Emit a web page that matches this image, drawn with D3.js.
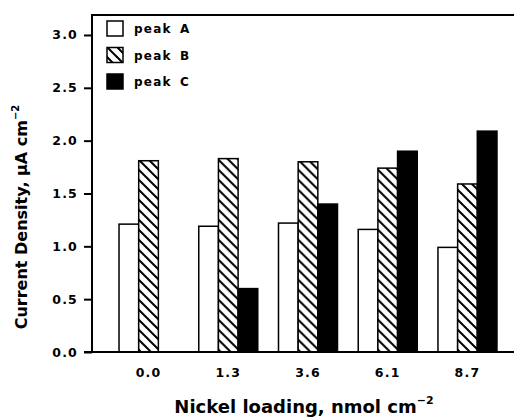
<!DOCTYPE html>
<html><head><meta charset="utf-8">
<script src="https://cdn.jsdelivr.net/npm/d3@7"></script>
<style>body{margin:0;background:#fff}</style>
</head><body>
<script>
const categories = ["0.0","1.3","3.6","6.1","8.7"];
const seriesNames = ["peak A","peak B","peak C"];
const peakA = [1.21, 1.19, 1.22, 1.16, 0.99];
const peakB = [1.81, 1.83, 1.80, 1.74, 1.59];
const peakC = [null, 0.60, 1.40, 1.90, 2.09];
const yTicks = [0.0, 0.5, 1.0, 1.5, 2.0, 2.5, 3.0];

const W = 514, H = 419;
const font = "DejaVu Sans, Verdana, sans-serif";
const svg = d3.select("body").append("svg").attr("width", W).attr("height", H);

const defs = svg.append("defs");
const pat = defs.append("pattern").attr("id","hatch").attr("patternUnits","userSpaceOnUse")
  .attr("width",10).attr("height",10);
pat.append("rect").attr("width",10).attr("height",10).attr("fill","#fff");
pat.append("path").attr("d","M-5,-5 L15,15 M-5,5 L5,15 M5,-5 L15,5").attr("stroke","#000").attr("stroke-width",2);

const fills = ["#fff","url(#hatch)","#000"];

const y = d3.scaleLinear().domain([0, 3.189]).range([352, 15]);
const x0 = d3.scaleBand().domain(categories).range([92, 524]).paddingInner(0.26).paddingOuter(0.339);
const x1 = d3.scaleBand().domain(seriesNames).range([0, x0.bandwidth()]);

const data = categories.map((c,i)=>({cat:c, vals:[peakA[i],peakB[i],peakC[i]]}));

const g = svg.append("g");
const groups = g.selectAll("g.grp").data(data).join("g").attr("transform", d=>`translate(${x0(d.cat)},0)`);
groups.selectAll("rect").data(d=>d.vals.map((v,k)=>({v,k})).filter(e=>e.v!=null)).join("rect")
  .attr("x", e=>x1(seriesNames[e.k]))
  .attr("y", e=>y(e.v))
  .attr("width", x1.bandwidth())
  .attr("height", e=>y(0)-y(e.v))
  .attr("fill", e=>fills[e.k])
  .attr("stroke","#000").attr("stroke-width",1.5);

// frame lines
svg.append("line").attr("x1",91).attr("x2",514).attr("y1",15).attr("y2",15).attr("stroke","#000").attr("stroke-width",2);
svg.append("line").attr("x1",84).attr("x2",514).attr("y1",y(0)).attr("y2",y(0)).attr("stroke","#000").attr("stroke-width",2);

// y axis
const yAxis = d3.axisLeft(y).tickValues(yTicks).tickFormat(d3.format(".1f")).tickSize(8).tickPadding(6);
const ya = svg.append("g").attr("transform","translate(92,0)").call(yAxis);
ya.select(".domain").attr("d",`M0,${y(0)}V15`).attr("stroke-width",2);
ya.selectAll(".tick line").attr("stroke-width",2);
ya.selectAll(".tick text").attr("font-family",font).attr("font-weight","bold").attr("font-size",12.5)
  .attr("letter-spacing","1.2px").attr("fill","#000");

// x axis labels
const xAxis = d3.axisBottom(x0).tickSize(0).tickPadding(0);
const xa = svg.append("g").attr("transform",`translate(0,${y(0)})`).call(xAxis);
xa.select(".domain").remove();
xa.selectAll(".tick text").attr("font-family",font).attr("font-weight","bold").attr("font-size",12.5)
  .attr("letter-spacing","1.2px").attr("fill","#000").attr("dy",null).attr("y",25);

// axis titles
const xt = svg.append("text").attr("x",304).attr("y",413).attr("text-anchor","middle")
  .attr("font-family",font).attr("font-weight","bold").attr("font-size",18);
xt.append("tspan").text("Nickel loading, nmol cm");
xt.append("tspan").attr("dy",-9).attr("font-size",11).text("−2");

const yt = svg.append("text").attr("transform","translate(27,217) rotate(-90)").attr("text-anchor","middle")
  .attr("font-family",font).attr("font-weight","bold").attr("font-size",16);
yt.append("tspan").text("Current Density, μA cm");
yt.append("tspan").attr("dy",-8).attr("font-size",10).text("−2");

// legend
const leg = svg.append("g");
const ly = [21, 47.5, 74];
seriesNames.forEach((s,k)=>{
  leg.append("rect").attr("x",107).attr("y",ly[k]).attr("width",16).attr("height",15)
    .attr("fill",fills[k]).attr("stroke","#000").attr("stroke-width",1.5);
  leg.append("text").attr("x",134).attr("y",ly[k]+12).text(s)
    .attr("font-family",font).attr("font-weight","bold").attr("font-size",12)
    .attr("letter-spacing","1.2px").attr("word-spacing","3px");
});
</script>
</body></html>
